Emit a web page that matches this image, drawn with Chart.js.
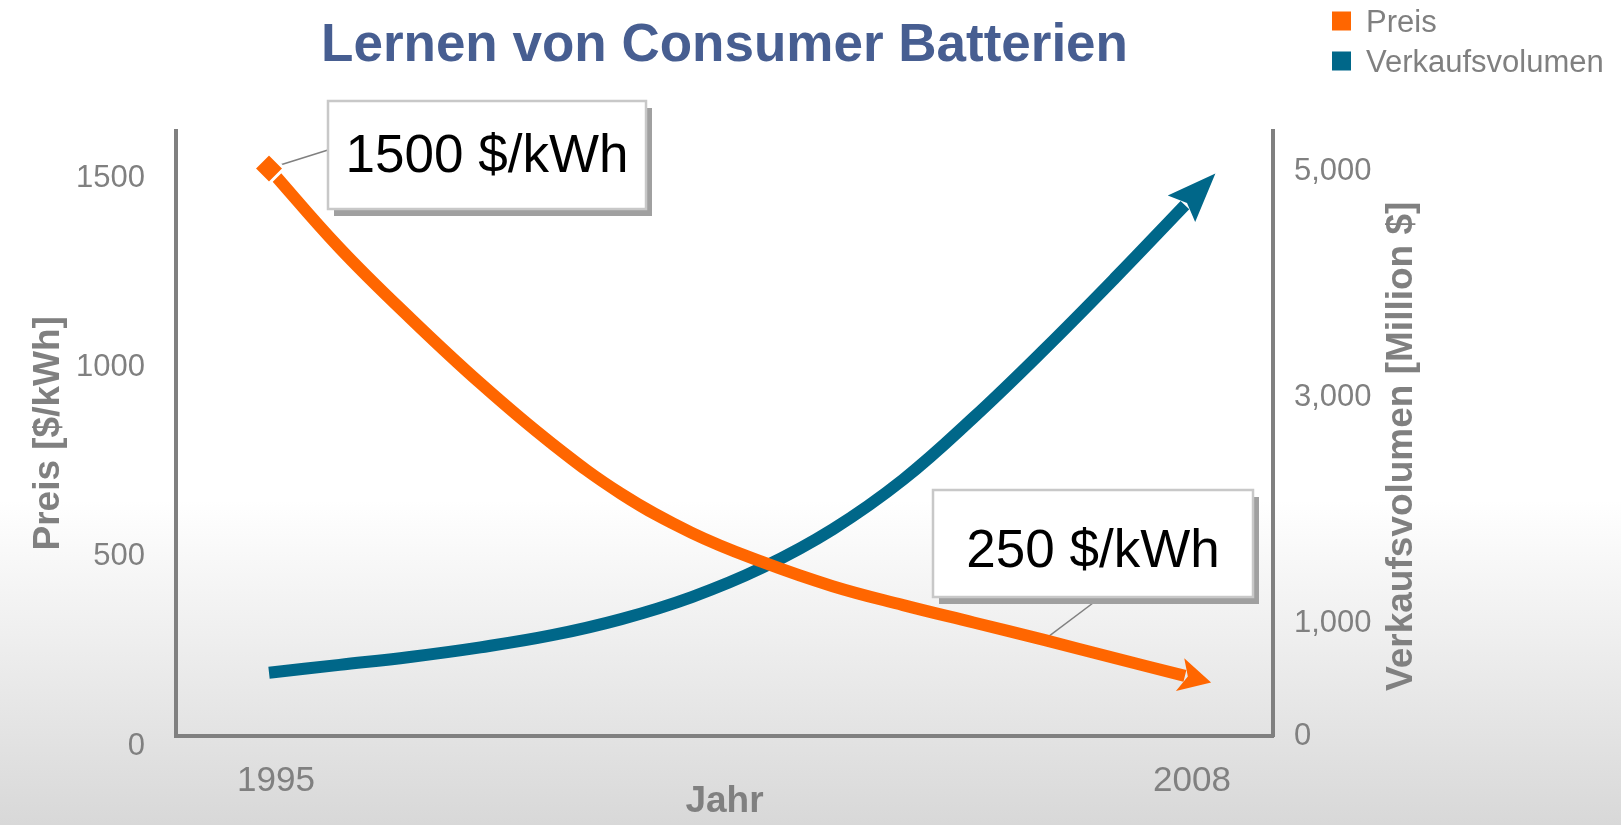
<!DOCTYPE html>
<html lang="de">
<head>
<meta charset="utf-8">
<title>Lernen von Consumer Batterien</title>
<script src="https://cdn.jsdelivr.net/npm/chart.js@4.4.1/dist/chart.umd.min.js"></script>
<style>
    html, body { margin: 0; padding: 0; overflow: hidden; }
    #wrap {
        width: 1621px;
        height: 825px;
        background: linear-gradient(180deg, #ffffff 0px, #ffffff 500px, #d8d8d8 825px);
    }
</style>
</head>
<body>
<div id="wrap"><canvas id="chart" width="1621" height="825"></canvas></div>
<script>
// Lernen von Consumer Batterien - price vs. sales volume

const years = [1995, 1996, 1997, 1998, 1999, 2000, 2001, 2002, 2003, 2004, 2005, 2006, 2007, 2008];
const preis = [1500, 1290, 1105, 932, 775, 640, 537, 460, 396, 346, 300, 254, 206, 159];
const volumen = [560, 630, 700, 785, 890, 1035, 1230, 1490, 1830, 2270, 2820, 3420, 4050, 4700];

const yearTicks = [1995, 2008];
const preisTicks = [0, 500, 1000, 1500];
const volumenTicks = [0, 1000, 3000, 5000];

// callout boxes point at a value of the price series
const callouts = [
    { text: '1500 $/kWh', index: 0 },
    { text: '250 $/kWh', index: 11 }
];

const FONT = "'Liberation Sans', Arial, sans-serif";
const GREY = '#808080';
const ORANGE = '#FF6600';
const BLUE = '#006789';

// box layout for the callouts (pixels)
const calloutBoxes = [
    { x: 328, y: 101, w: 318, h: 108, textY: 157, anchorX: 328, anchorY: 150 },
    { x: 933, y: 490, w: 320, h: 107, textY: 552, anchorX: 1101, anchorY: 597 }
];

const connectorPlugin = {
    id: 'connectors',
    beforeDatasetsDraw(chart) {
        const ctx = chart.ctx;
        const pts = chart.getDatasetMeta(0).data;
        ctx.save();
        ctx.strokeStyle = GREY;
        ctx.lineWidth = 1.5;
        callouts.forEach((c, i) => {
            const p = pts[c.index];
            const b = calloutBoxes[i];
            ctx.beginPath();
            ctx.moveTo(p.x, p.y);
            ctx.lineTo(b.anchorX, b.anchorY);
            ctx.stroke();
        });
        ctx.restore();
    }
};

const arrowPlugin = {
    id: 'arrowheads',
    afterDatasetsDraw(chart) {
        const ctx = chart.ctx;
        chart.data.datasets.forEach((ds, i) => {
            const pts = chart.getDatasetMeta(i).data;
            const last = pts[pts.length - 1];
            const prev = pts[pts.length - 2];
            let dx = last.x - (last.cp1x ?? prev.x);
            let dy = last.y - (last.cp1y ?? prev.y);
            const len = Math.hypot(dx, dy) || 1;
            dx /= len; dy /= len;
            const nx = -dy, ny = dx;
            const head = ds.arrowLength || 32;
            const half = ds.arrowWidth || 18;
            const at = (u, v) => [last.x + dx * u + nx * v, last.y + dy * u + ny * v];
            ctx.save();
            ctx.fillStyle = ds.borderColor;
            ctx.beginPath();
            ctx.moveTo(...at(head, 0));
            ctx.lineTo(...at(-5, half));
            ctx.lineTo(...at(3, 0));
            ctx.lineTo(...at(-5, -half));
            ctx.closePath();
            ctx.fill();
            ctx.restore();
        });
    }
};

const calloutPlugin = {
    id: 'callouts',
    afterDatasetsDraw(chart) {
        const ctx = chart.ctx;
        ctx.save();
        callouts.forEach((c, i) => {
            const b = calloutBoxes[i];
            ctx.fillStyle = '#a0a0a0';
            ctx.fillRect(b.x + 6, b.y + 7, b.w, b.h);
            ctx.fillStyle = '#ffffff';
            ctx.fillRect(b.x, b.y, b.w, b.h);
            ctx.strokeStyle = '#c8c8c8';
            ctx.lineWidth = 2.5;
            ctx.strokeRect(b.x, b.y, b.w, b.h);
            ctx.fillStyle = '#000000';
            ctx.font = '53px ' + FONT;
            ctx.textAlign = 'center';
            ctx.textBaseline = 'middle';
            ctx.fillText(c.text, b.x + b.w / 2, b.textY);
        });
        ctx.restore();
    }
};

const sidePlugin = {
    id: 'legendAndRightTitle',
    afterDraw(chart) {
        const ctx = chart.ctx;
        ctx.save();
        // legend, stacked top right
        ctx.font = '31px ' + FONT;
        ctx.textAlign = 'left';
        ctx.textBaseline = 'middle';
        chart.data.datasets.forEach((ds, i) => {
            const cy = 21 + i * 40;
            ctx.fillStyle = ds.borderColor;
            ctx.fillRect(1332, cy - 9.5, 19, 19);
            ctx.fillStyle = GREY;
            ctx.fillText(ds.label, 1366, cy + 2);
        });
        // right axis title reads bottom to top
        const area = chart.chartArea;
        ctx.translate(chart.scales.y2.right - 219, (area.top + area.bottom) / 2 + 13);
        ctx.rotate(-Math.PI / 2);
        ctx.font = 'bold 37px ' + FONT;
        ctx.textAlign = 'center';
        ctx.fillStyle = GREY;
        ctx.fillText('Verkaufsvolumen [Million $]', 0, 0);
        ctx.restore();
    }
};

const axisBorder = { display: true, color: GREY, width: 4 };
const noGrid = { display: false, drawTicks: false };

new Chart(document.getElementById('chart'), {
    type: 'line',
    data: {
        datasets: [{
            label: 'Preis',
            data: years.map((y, i) => ({ x: y, y: preis[i] })),
            yAxisID: 'y',
            borderColor: ORANGE,
            backgroundColor: ORANGE,
            borderWidth: 12,
            tension: 0.4,
            arrowLength: 27,
            arrowWidth: 17,
            pointStyle: 'rectRot',
            pointRadius: ctx => ctx.dataIndex === 0 ? 15 : 0,
            pointBackgroundColor: ORANGE,
            pointBorderColor: '#ffffff',
            pointBorderWidth: 3,
            pointHoverRadius: 0
        }, {
            label: 'Verkaufsvolumen',
            data: years.map((y, i) => ({ x: y, y: volumen[i] })),
            yAxisID: 'y2',
            borderColor: BLUE,
            backgroundColor: BLUE,
            borderWidth: 12,
            tension: 0.4,
            arrowLength: 44,
            arrowWidth: 19,
            pointRadius: 0,
            pointHoverRadius: 0
        }]
    },
    options: {
        responsive: false,
        animation: false,
        devicePixelRatio: 1,
        layout: { padding: 0 },
        plugins: {
            legend: { display: false },
            tooltip: { enabled: false },
            title: {
                display: true,
                text: 'Lernen von Consumer Batterien',
                fullSize: false,
                color: '#475E91',
                font: { family: FONT, size: 53, weight: 'bold' },
                padding: { top: 15, bottom: 52 }
            }
        },
        scales: {
            x: {
                type: 'linear',
                position: 'bottom',
                min: 1993.68,
                max: 2009.25,
                grid: noGrid,
                border: axisBorder,
                afterBuildTicks: scale => { scale.ticks = yearTicks.map(v => ({ value: v })); },
                afterFit: scale => { scale.height = 89; },
                ticks: {
                    color: GREY,
                    font: { family: FONT, size: 35 },
                    padding: 24,
                    labelOffset: 7,
                    maxRotation: 0,
                    callback: v => String(v)
                },
                title: {
                    display: true,
                    text: 'Jahr',
                    color: GREY,
                    font: { family: FONT, size: 37, weight: 'bold' },
                    padding: { top: 0, bottom: 1 }
                }
            },
            y: {
                position: 'left',
                min: 0,
                max: 1600,
                grid: noGrid,
                border: axisBorder,
                afterBuildTicks: scale => { scale.ticks = preisTicks.map(v => ({ value: v })); },
                afterFit: scale => { scale.width = 176; },
                ticks: {
                    color: GREY,
                    font: { family: FONT, size: 31 },
                    padding: 31,
                    labelOffset: 10,
                    callback: v => String(v)
                },
                title: {
                    display: true,
                    text: 'Preis [$/kWh]',
                    color: GREY,
                    font: { family: FONT, size: 37, weight: 'bold' },
                    padding: { top: 27, bottom: 0 }
                }
            },
            y2: {
                position: 'right',
                min: 0,
                max: 5360,
                grid: noGrid,
                border: axisBorder,
                afterBuildTicks: scale => { scale.ticks = volumenTicks.map(v => ({ value: v })); },
                afterFit: scale => { scale.width = 348; },
                ticks: {
                    color: GREY,
                    font: { family: FONT, size: 31 },
                    padding: 21,
                    callback: v => v.toLocaleString('en-US')
                }
            }
        }
    },
    plugins: [connectorPlugin, arrowPlugin, calloutPlugin, sidePlugin]
});
</script>
</body>
</html>
